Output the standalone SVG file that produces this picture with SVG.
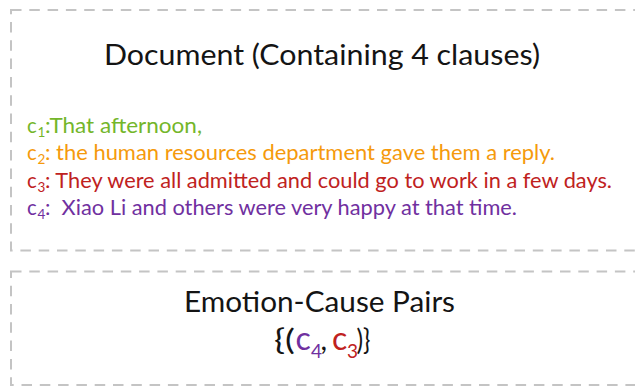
<svg xmlns="http://www.w3.org/2000/svg" width="635" height="387" viewBox="0 0 635 387">
  <style>
    .box { fill: #ffffff; stroke: #c4c4c4; stroke-width: 2; stroke-dasharray: 10.5 7.8; }
    .t { font-family: Lato, "Open Sans", "Liberation Sans", sans-serif; white-space: pre; }
    .title { font-size: 29px; fill: #141414; }
    .cl { font-size: 20.5px; }
    .sub { font-size: 13.5px; }
    .green { fill: #74b62a; }
    .orange { fill: #f59a0c; }
    .red { fill: #bf221e; }
    .purple { fill: #7030a0; }
    .dark { fill: #141414; }
  </style>
  <rect width="635" height="387" fill="#ffffff"/>

  <g id="document">
    <rect class="box" x="11" y="10" width="640" height="240.5"/>
    <text class="t title" x="104" y="65" textLength="436" lengthAdjust="spacingAndGlyphs">Document (Containing 4 clauses)</text>

    <g id="clause-c1" class="green">
      <text class="t cl" x="27" y="132.5">c</text>
      <text class="t sub" x="37.5" y="136.5">1</text>
      <text class="t cl" x="45" y="132.5" textLength="157" lengthAdjust="spacingAndGlyphs">:That afternoon,</text>
    </g>
    <g id="clause-c2" class="orange">
      <text class="t cl" x="27" y="160">c</text>
      <text class="t sub" x="37.5" y="164">2</text>
      <text class="t cl" x="45" y="160" textLength="510" lengthAdjust="spacingAndGlyphs">: the human resources department gave them a reply.</text>
    </g>
    <g id="clause-c3" class="red">
      <text class="t cl" x="27" y="187.5">c</text>
      <text class="t sub" x="37.5" y="191.5">3</text>
      <text class="t cl" x="45" y="187.5" textLength="567" lengthAdjust="spacingAndGlyphs">: They were all admitted and could go to work in a few days.</text>
    </g>
    <g id="clause-c4" class="purple">
      <text class="t cl" x="27" y="215">c</text>
      <text class="t sub" x="37.5" y="219">4</text>
      <text class="t cl" x="45" y="215" xml:space="preserve" textLength="472" lengthAdjust="spacingAndGlyphs">:  Xiao Li and others were very happy at that time.</text>
    </g>
  </g>

  <g id="pairs">
    <rect class="box" x="11" y="271.5" width="640" height="113.5"/>
    <text class="t title" x="184" y="312" textLength="271" lengthAdjust="spacingAndGlyphs">Emotion-Cause Pairs</text>
    <g id="pair-set" class="t" font-size="29">
      <text class="dark" x="274" y="350" textLength="21" lengthAdjust="spacingAndGlyphs">{(</text>
      <text class="purple" x="295.5" y="350" font-size="32">c</text>
      <text class="purple" x="311" y="358" font-size="19">4</text>
      <text class="dark" x="320.5" y="350">,</text>
      <text class="red" x="332" y="350" font-size="32">c</text>
      <text class="red" x="347" y="358" font-size="19">3</text>
      <text class="dark" x="356.5" y="350" textLength="14" lengthAdjust="spacingAndGlyphs">)}</text>
    </g>
  </g>
</svg>
